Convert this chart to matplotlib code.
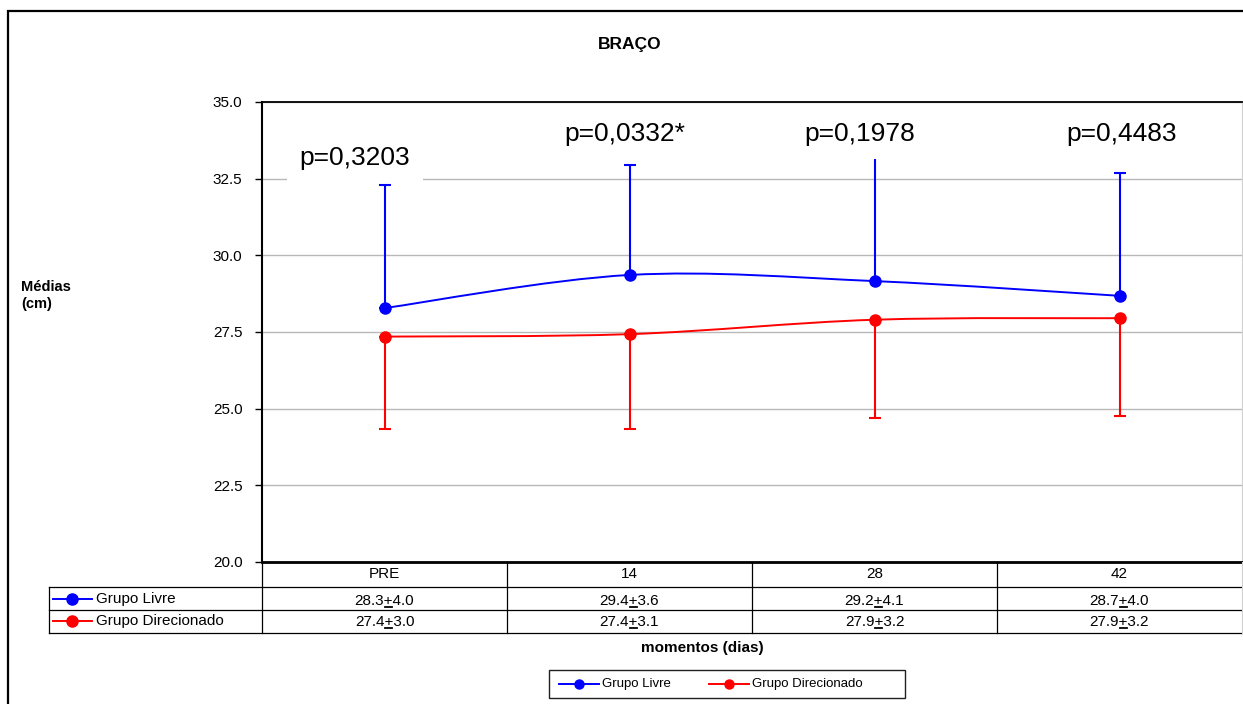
import numpy as np
import matplotlib
matplotlib.use('Agg')
import matplotlib.pyplot as plt
from matplotlib.path import Path
from matplotlib.patches import PathPatch, Rectangle
from matplotlib.lines import Line2D

plt.rcParams['font.family'] = ['Liberation Sans', 'DejaVu Sans']

# data
categories = ['PRE', '14', '28', '42']
livre_mean = [28.28, 29.36, 29.16, 28.68]
livre_sd = [4.0, 3.6, 4.1, 4.0]
dir_mean = [27.35, 27.43, 27.90, 27.95]
dir_sd = [3.0, 3.1, 3.2, 3.2]
livre_text = ['28.3+4.0', '29.4+3.6', '29.2+4.1', '28.7+4.0']
dir_text = ['27.4+3.0', '27.4+3.1', '27.9+3.2', '27.9+3.2']
p_labels = ['p=0,3203', 'p=0,0332*', 'p=0,1978', 'p=0,4483']
series_names = ['Grupo Livre', 'Grupo Direcionado']

# layout (data coords of the p labels)
p_x = [-0.12, 0.98, 1.94, 3.01]
p_y = [33.17, 33.95, 33.95, 33.95]

W, H = 1243, 704


def fx(px):
    return px / W


def fy(py):
    return 1 - py / H


def smooth_path(xs, ys):
    # excel style smoothed line (catmull-rom as bezier)
    pts = np.column_stack([xs, ys]).astype(float)
    ext = np.vstack([pts[0], pts, pts[-1]])
    verts = [pts[0]]
    codes = [Path.MOVETO]
    for i in range(len(pts) - 1):
        p0, p1, p2, p3 = ext[i], ext[i + 1], ext[i + 2], ext[i + 3]
        verts += [p1 + (p2 - p0) / 6, p2 - (p3 - p1) / 6, p2]
        codes += [Path.CURVE4] * 3
    return Path(verts, codes)


fig = plt.figure(figsize=(W / 100, H / 100), dpi=100)
ax = fig.add_axes([fx(262), fy(562), (1242 - 262) / W, (562 - 102) / H])

x = np.arange(len(categories))
n = len(categories)

ax.errorbar(x, livre_mean, yerr=[np.zeros(n), livre_sd], fmt='none',
            ecolor='blue', elinewidth=1.5, capsize=4, capthick=1.5, zorder=2)
ax.errorbar(x, dir_mean, yerr=[dir_sd, np.zeros(n)], fmt='none',
            ecolor='red', elinewidth=1.5, capsize=4, capthick=1.5, zorder=2)

for ys, col in [(livre_mean, 'blue'), (dir_mean, 'red')]:
    ax.add_patch(PathPatch(smooth_path(x, ys), fc='none', ec=col, lw=1.4, zorder=3))
    ax.plot(x, ys, 'o', color=col, ms=8, zorder=4)

for px_, py_, s in zip(p_x, p_y, p_labels):
    ax.text(px_, py_, s, ha='center', va='center', fontsize=19, zorder=5,
            bbox=dict(fc='white', ec='none', pad=9))

ax.set_xlim(-0.5, 3.5)
ax.set_ylim(20, 35)
ax.set_yticks(np.arange(20, 35.1, 2.5))
ax.set_yticklabels(['%.1f' % v for v in np.arange(20, 35.1, 2.5)], fontsize=11)
ax.set_xticks([])
ax.tick_params(axis='y', direction='out', length=5, width=1, pad=9)
ax.yaxis.grid(True, color='#b8b8b8', lw=1)
ax.set_axisbelow(True)
ax.spines['left'].set_linewidth(1.5)
ax.spines['bottom'].set_linewidth(2)
ax.spines['top'].set_linewidth(1.3)
ax.spines['right'].set_color('#d0d0d0')
ax.spines['right'].set_linewidth(0.8)

# outer chart border
fig.add_artist(Rectangle((fx(8), -0.1), 1.2, fy(11) + 0.1, transform=fig.transFigure,
                         fill=False, ec='black', lw=1.6))

fig.text(fx(630), fy(44), 'BRAÇO', ha='center', va='center', fontsize=12.5, fontweight='bold')
fig.text(fx(21), fy(280), 'Médias\n(cm)', ha='left', va='top', fontsize=10.5,
         fontweight='bold', linespacing=1.3)
fig.text(fx(702), fy(648), 'momentos (dias)', ha='center', va='center', fontsize=11,
         fontweight='bold')

# data table under the axis
col_edges = [262, 507, 752, 997, 1242]
tcol = 'black'
for yy in [587, 610, 633]:
    fig.add_artist(Line2D([fx(49), fx(1242)], [fy(yy), fy(yy)], color=tcol, lw=0.9))
for xx in col_edges[:-1]:
    fig.add_artist(Line2D([fx(xx), fx(xx)], [fy(562), fy(633)], color=tcol, lw=0.9))
fig.add_artist(Line2D([fx(1242), fx(1242)], [fy(562), fy(633)], color='#d0d0d0', lw=0.8))
fig.add_artist(Line2D([fx(49), fx(49)], [fy(587), fy(633)], color=tcol, lw=0.9))

renderer = fig.canvas.get_renderer()


def value_cell(xc, yb, s):
    t = fig.text(fx(xc), fy(yb), s, ha='center', va='baseline', fontsize=11)
    bb = t.get_window_extent(renderer)
    left = s.split('+')[0]
    tmp = fig.text(0, 0, left, fontsize=11)
    w1 = tmp.get_window_extent(renderer).width
    tmp.remove()
    tmp = fig.text(0, 0, left + '+', fontsize=11)
    w2 = tmp.get_window_extent(renderer).width
    tmp.remove()
    uy = (H - yb) - 2
    fig.add_artist(Line2D([(bb.x0 + w1 + 1) / W, (bb.x0 + w2 - 1) / W], [uy / H, uy / H],
                          color='black', lw=1.3))


for i, cat in enumerate(categories):
    xc = (col_edges[i] + col_edges[i + 1]) / 2
    fig.text(fx(xc), fy(578), cat, ha='center', va='baseline', fontsize=11)
    value_cell(xc, 605, livre_text[i])
    value_cell(xc, 626, dir_text[i])

for yc, col, name in [(599, 'blue', series_names[0]), (621, 'red', series_names[1])]:
    fig.add_artist(Line2D([fx(53), fx(92)], [fy(yc), fy(yc)], color=col, lw=1.4))
    fig.add_artist(Line2D([fx(72)], [fy(yc)], color=col, marker='o', ms=8))
    fig.text(fx(96), fy(yc), name, ha='left', va='center', fontsize=11)

# legend box at the bottom
fig.add_artist(Rectangle((fx(549), fy(698)), (905 - 549) / W, (698 - 670) / H,
                         transform=fig.transFigure, fill=False, ec='#202020', lw=1))
for x0, col, name in [(559, 'blue', series_names[0]), (709, 'red', series_names[1])]:
    fig.add_artist(Line2D([fx(x0), fx(x0 + 40)], [fy(684), fy(684)], color=col, lw=1.4))
    fig.add_artist(Line2D([fx(x0 + 20)], [fy(684)], color=col, marker='o', ms=6.5))
    fig.text(fx(x0 + 43), fy(684), name, ha='left', va='center', fontsize=9.5)

fig.savefig('out.png', dpi=100, facecolor='white')
